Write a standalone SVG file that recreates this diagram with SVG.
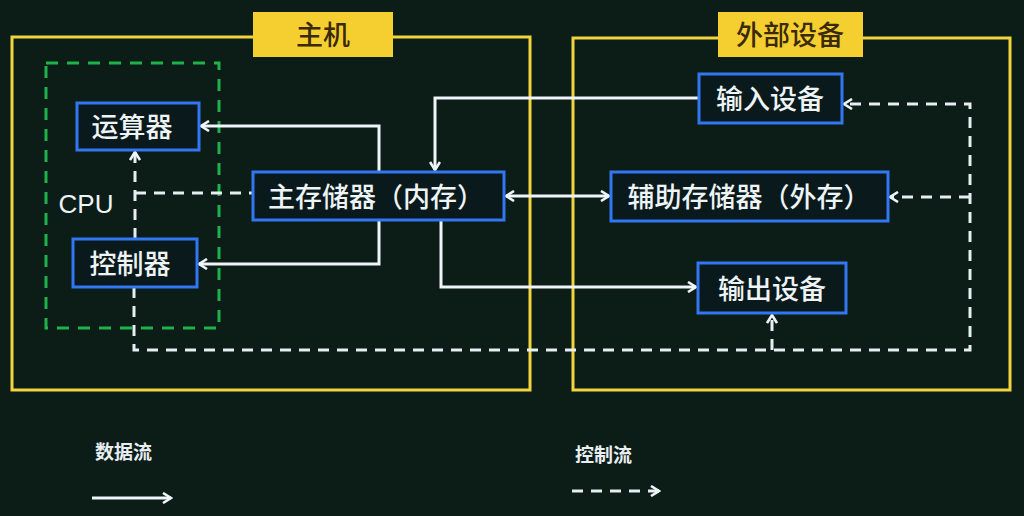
<svg xmlns="http://www.w3.org/2000/svg" width="1024" height="516" viewBox="0 0 1024 516">
<defs>
<style>
.bg{fill:#0c1d18}
.frame{fill:none;stroke:#f2d43c;stroke-width:3}
.title{fill:#f5cf2f}
.ttext{font-family:"Noto Sans CJK SC","Liberation Sans",sans-serif;font-size:27px;font-weight:500;fill:#3a2a0a;text-anchor:middle;dominant-baseline:central}
.node{fill:#0a1a1c;stroke:#3176f2;stroke-width:3}
.ntext{font-family:"Noto Sans CJK SC","Liberation Sans",sans-serif;font-size:27px;font-weight:500;fill:#eef4f6;text-anchor:middle;dominant-baseline:central}
.cpu{fill:none;stroke:#1fb24a;stroke-width:3;stroke-dasharray:12 9}
.data{fill:none;stroke:#eef4f8;stroke-width:3}
.ctrl{fill:none;stroke:#e6eef2;stroke-width:3;stroke-dasharray:11 8}
.leg{font-family:"Noto Sans CJK SC","Liberation Sans",sans-serif;font-size:19px;font-weight:bold;fill:#e8eef2;dominant-baseline:central}
</style>
<marker id="ah" viewBox="0 0 12 12" refX="10" refY="6" markerWidth="12" markerHeight="12" markerUnits="userSpaceOnUse" orient="auto-start-reverse">
<path d="M2,1 L10,6 L2,11" fill="none" stroke="#eef4f8" stroke-width="2.6"/>
</marker>
</defs>
<rect class="bg" x="0" y="0" width="1024" height="516"/>

<g id="host">
<rect class="frame" x="12" y="37" width="518" height="353"/>
<rect class="title" x="253" y="12" width="140" height="45"/>
<text class="ttext" x="323" y="33">主机</text>
</g>
<g id="peripheral">
<rect class="frame" x="573" y="38" width="437" height="352"/>
<rect class="title" x="718" y="12" width="145" height="45"/>
<text class="ttext" x="790" y="33">外部设备</text>
</g>
<g id="cpu">
<rect class="cpu" x="46" y="63" width="173" height="265"/>
<text x="86" y="204" font-family="'Liberation Sans',sans-serif" font-size="26" fill="#eef4f6" text-anchor="middle" dominant-baseline="central">CPU</text>
</g>

<g id="connectors">
<!-- data flows -->
<polyline class="data" points="379,172 379,126 201,126" marker-end="url(#ah)"/>
<polyline class="data" points="379,220 379,264 199,264" marker-end="url(#ah)"/>
<polyline class="data" points="699,98 435,98 435,170" marker-end="url(#ah)"/>
<polyline class="data" points="441,220 441,287 696,287" marker-end="url(#ah)"/>
<line class="data" x1="506" y1="196" x2="609" y2="196" marker-start="url(#ah)" marker-end="url(#ah)"/>
<!-- control flows -->
<polyline class="ctrl" points="135,239 135,152" marker-end="url(#ah)"/>
<polyline class="ctrl" points="135,193 253,193"/>
<polyline class="ctrl" points="134,287 134,350 970,350 970,104 844,104" marker-end="url(#ah)"/>
<polyline class="ctrl" points="970,197 890,197" marker-end="url(#ah)"/>
<polyline class="ctrl" points="772,350 772,315" marker-end="url(#ah)"/>
</g>

<g id="alu"><rect class="node" x="77" y="103" width="122" height="47"/><text class="ntext" x="132" y="125">运算器</text></g>
<g id="cu"><rect class="node" x="73" y="239" width="124" height="48"/><text class="ntext" x="130" y="262">控制器</text></g>
<g id="mem"><rect class="node" x="253" y="172" width="251" height="48"/><text class="ntext" x="376" y="195">主存储器（内存）</text></g>
<g id="input"><rect class="node" x="699" y="74" width="143" height="49"/><text class="ntext" x="770" y="97">输入设备</text></g>
<g id="aux"><rect class="node" x="611" y="172" width="277" height="49"/><text class="ntext" x="749" y="195">辅助存储器（外存）</text></g>
<g id="output"><rect class="node" x="698" y="263" width="148" height="50"/><text class="ntext" x="772" y="287">输出设备</text></g>

<g id="legend">
<text class="leg" x="95" y="450">数据流</text>
<line class="data" x1="92" y1="498" x2="171" y2="498" marker-end="url(#ah)"/>
<text class="leg" x="575" y="453">控制流</text>
<line class="ctrl" x1="572" y1="491" x2="659" y2="491" marker-end="url(#ah)"/>
</g>
</svg>
